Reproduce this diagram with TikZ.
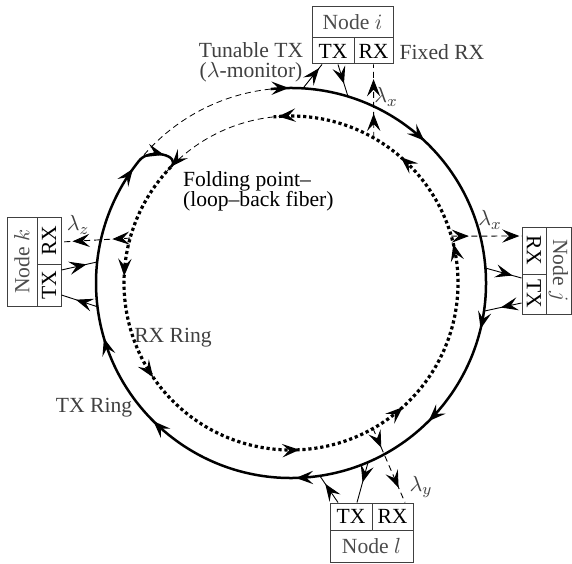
\documentclass[tikz,border=0pt]{standalone}
\usepackage{fontspec}
\setmainfont{Liberation Serif}
\usetikzlibrary{arrows.meta,calc,decorations.markings}

\begin{document}
\begin{tikzpicture}[
    x=0.5pt, y=0.5pt,
    every node/.style={font=\fontsize{10.8}{10}\selectfont},
    >={Stealth[length=8.6pt,width=6.6pt,inset=3.4pt]},
    arr/.style={postaction={decorate,decoration={markings,
        mark=at position #1 with {\arrow{>}}}}},
    txring/.style={line width=1.25pt},
    rxring/.style={line width=1.6pt, dash pattern=on 1.6pt off 1.4pt},
    idle/.style={line width=0.4pt, dash pattern=on 3pt off 2pt},
    link/.style={line width=0.45pt},
    rxlink/.style={line width=0.45pt, dash pattern=on 3pt off 2pt},
    cell/.style={draw=black!75, line width=0.5pt, inner sep=0pt},
    nodetitle/.style={cell, text=black!70},
    lbl/.style={text=black!75},
  ]
  \useasboundingbox (0,0) rectangle (572,563);
  \coordinate (C) at (291,280);

  % rings
  \draw[idle] ($(C)+(96:97.5pt)$) arc[start angle=96, end angle=143, radius=97.5pt];
  \draw[idle] ($(C)+(96:83.5pt)$) arc[start angle=96, end angle=140, radius=83.5pt];
  \draw[txring, arr=0.017, arr=0.156, arr=0.348, arr=0.448, arr=0.586,
        arr=0.733, arr=0.824, arr=0.99]
    ($(C)+(96:97.5pt)$) arc[start angle=96, end angle=-219, radius=97.5pt]
    coordinate (foldA);
  \coordinate (foldB) at ($(C)+(136:83.5pt)$);
  \draw[txring, arr=0.6, arr=0.99] (foldA) .. controls +(51:8pt) and +(46:8pt) .. (foldB);
  \draw[rxring, arr=0.13, arr=0.245, arr=0.428, arr=0.55, arr=0.7425,
        arr=0.853, arr=0.995]
    (foldB) arc[start angle=136, end angle=456, radius=83.5pt];

  % node i
  \node[nodetitle, minimum width=40.5pt, minimum height=15.5pt] (ni) at (352.5,540.5) {Node $i$};
  \node[cell, minimum width=21pt, minimum height=13pt] (itx) at (333,512) {TX};
  \node[cell, minimum width=19.5pt, minimum height=13pt] (irx) at (373.5,512) {RX};
  \coordinate (imon) at ($(C)+(86.5:97.5pt)$);
  \coordinate (iadd) at ($(C)+(73:97.5pt)$);
  \coordinate (idrop) at ($(C)+(60.3:83.5pt)$);
  \draw[link, arr=0.85] (imon) -- ([xshift=-5.5pt]itx.south);
  \draw[link, arr=0.6] ([xshift=2.5pt]itx.south) -- (iadd);
  \draw[rxlink, arr=0.33, arr=0.8] (idrop) -- (irx.south);

  % node j
  \node[nodetitle, rotate=-90, minimum width=43.5pt, minimum height=12.5pt] (nj) at (558.5,292.5) {Node $j$};
  \node[cell, rotate=-90, minimum width=23.5pt, minimum height=12pt] (jrx) at (534,312.5) {RX};
  \node[cell, rotate=-90, minimum width=20pt, minimum height=12pt] (jtx) at (534,269) {TX};
  \coordinate (jmon) at ($(C)+(4.4:97.5pt)$);
  \coordinate (jadd) at ($(C)+(-8.3:97.5pt)$);
  \coordinate (jdrop) at ($(C)+(16.3:83.5pt)$);
  \draw[link, arr=0.75] (jmon) -- ([yshift=8pt]jtx.south);
  \draw[link, arr=0.55] ([yshift=-4.5pt]jtx.south) -- (jadd);
  \draw[rxlink, arr=0.25, arr=0.97] (jdrop) -- ([yshift=7.25pt]jrx.south);

  % node k
  \node[nodetitle, rotate=90, minimum width=44.5pt, minimum height=15pt] (nk) at (22,301.5) {Node $k$};
  \node[cell, rotate=90, minimum width=23.5pt, minimum height=12pt] (krx) at (49,322.5) {RX};
  \node[cell, rotate=90, minimum width=21pt, minimum height=12pt] (ktx) at (49,278) {TX};
  \coordinate (kadd) at ($(C)+(173.8:97.5pt)$);
  \coordinate (kmon) at ($(C)+(187:97.5pt)$);
  \coordinate (kdrop) at ($(C)+(164.4:83.5pt)$);
  \draw[link, arr=0.7] ([yshift=7.5pt]ktx.south) -- (kadd);
  \draw[link, arr=0.6] (kmon) -- ([yshift=-5pt]ktx.south);
  \draw[rxlink, arr=0.26, arr=0.84] (kdrop) -- ([yshift=-0.75pt]krx.south);

  % node l
  \node[cell, minimum width=21pt, minimum height=13.5pt] (ltx) at (351,46.5) {TX};
  \node[cell, minimum width=20.5pt, minimum height=13.5pt] (lrx) at (392.5,46.5) {RX};
  \node[nodetitle, minimum width=41.5pt, minimum height=16pt] (nl) at (371.5,17) {Node $l$};
  \coordinate (lmon) at ($(C)+(-66.7:97.5pt)$);
  \coordinate (ladd) at ($(C)+(-81.5:97.5pt)$);
  \coordinate (ldrop) at ($(C)+(-60.6:83.5pt)$);
  \draw[link, arr=0.5] (lmon) -- ([xshift=3pt]ltx.north);
  \draw[link, arr=0.7] ([xshift=-6.5pt]ltx.north) -- (ladd);
  \draw[rxlink, arr=0.26, arr=0.8] (ldrop) -- ([xshift=6.25pt]lrx.north);

  % labels
  \node[lbl, align=center] (tun) at (251,501) {Tunable TX\\($\lambda$-monitor)};
  \node[lbl] (fix) at (442,511) {Fixed RX};
  \node[align=left, anchor=west] (fold) at (176,372) {Folding point--\\(loop--back fiber)};
  \node[lbl] (rxr) at (173,225) {RX Ring};
  \node[lbl] (txr) at (94,155) {TX Ring};
  \node[lbl] (lx1) at (386,466) {$\lambda_x$};
  \node[lbl] (lx2) at (490,343) {$\lambda_x$};
  \node[lbl] (lz) at (78,338) {$\lambda_z$};
  \node[lbl] (ly) at (421,76) {$\lambda_y$};
\end{tikzpicture}
\end{document}
